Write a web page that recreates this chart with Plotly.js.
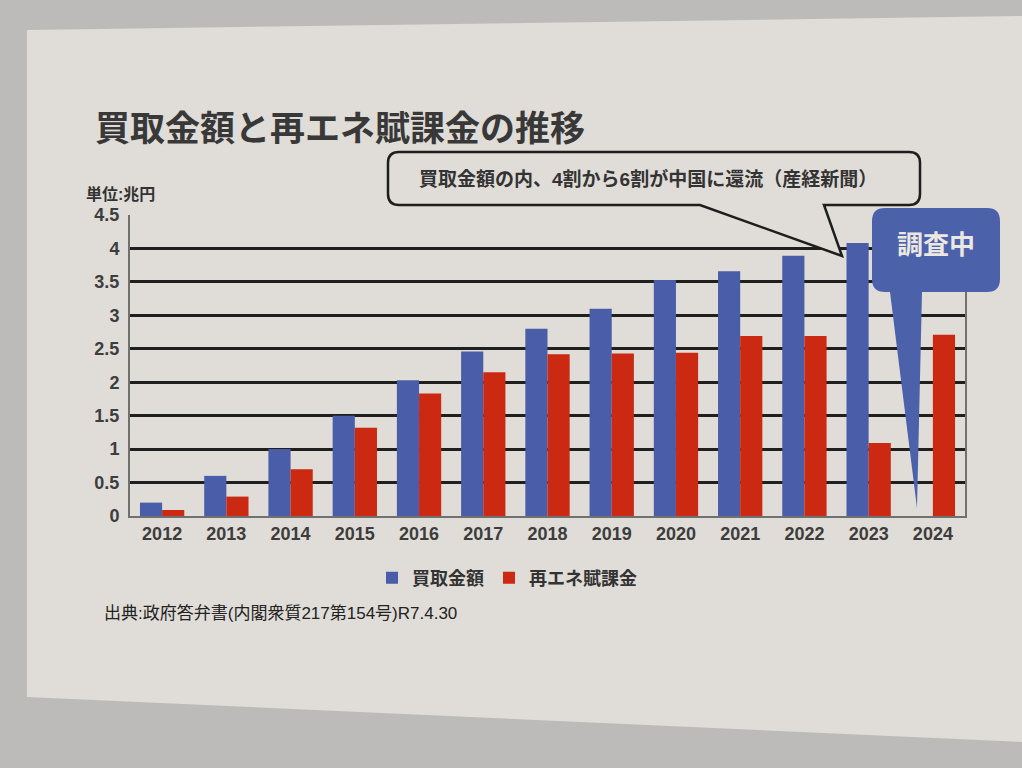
<!DOCTYPE html>
<html><head><meta charset="utf-8">
<script src="https://cdn.plot.ly/plotly-3.0.1.min.js"></script>
<style>html,body{margin:0;padding:0;background:#bdbbb9;}#chart{width:1022px;height:768px;}</style>
</head><body><div id="chart"></div>
<script>
// ---- data (兆円) ----
const years = ['2012','2013','2014','2015','2016','2017','2018','2019','2020','2021','2022','2023','2024'];
const purchaseAmount = [0.2, 0.6, 1.0, 1.5, 2.03, 2.46, 2.8, 3.1, 3.53, 3.66, 3.89, 4.08, null];
const renewableLevy  = [0.09, 0.29, 0.7, 1.32, 1.83, 2.15, 2.42, 2.43, 2.44, 2.69, 2.69, 1.09, 2.71];
const seriesNames = ['買取金額', '再エネ賦課金'];
const yTickValues = [0, 0.5, 1, 1.5, 2, 2.5, 3, 3.5, 4, 4.5];
const yTickLabels = ['0', '0.5', '1', '1.5', '2', '2.5', '3', '3.5', '4', '4.5'];
const titleText = '買取金額と再エネ賦課金の推移';
const unitText = '単位:兆円';
const calloutText = '買取金額の内、4割から6割が中国に還流（産経新聞）';
const pendingText = '調査中';
const sourceText = '出典:政府答弁書(内閣衆質217第154号)R7.4.30';

// ---- layout helpers ----
const W = 1022, H = 768, PL = 130, PR = 965, PT = 215, PB = 516;
const fx = x => (x - PL) / (PR - PL);
const fy = y => (PB - y) / (PB - PT);
const P = (x, y) => fx(x).toFixed(5) + ',' + fy(y).toFixed(5);
function bubble(x0, y0, x1, y1, r, tail) {
  let d = 'M' + P(x0 + r, y0) + ' L' + P(x1 - r, y0) + ' Q' + P(x1, y0) + ' ' + P(x1, y0 + r) +
          ' L' + P(x1, y1 - r) + ' Q' + P(x1, y1) + ' ' + P(x1 - r, y1);
  if (tail) d += ' L' + P(tail.right, y1) + ' L' + P(tail.tipX, tail.tipY) + ' L' + P(tail.left, y1);
  d += ' L' + P(x0 + r, y1) + ' Q' + P(x0, y1) + ' ' + P(x0, y1 - r) +
       ' L' + P(x0, y0 + r) + ' Q' + P(x0, y0) + ' ' + P(x0 + r, y0) + ' Z';
  return d;
}

const FONT = 'Liberation Sans, Arial, "Noto Sans CJK JP", sans-serif';
const SHEET = '#e0dcd7';
const BLUE = '#4a5da9';
const RED = '#cb2912';

const traces = [
  { type: 'bar', name: seriesNames[0], x: years, y: purchaseAmount, marker: { color: BLUE }, hoverinfo: 'x+y' },
  { type: 'bar', name: seriesNames[1], x: years, y: renewableLevy, marker: { color: RED }, hoverinfo: 'x+y' }
];

const layout = {
  width: W, height: H,
  margin: { l: PL, r: W - PR, t: PT, b: H - PB, pad: 0 },
  paper_bgcolor: '#bdbbb9',
  plot_bgcolor: 'rgba(0,0,0,0)',
  font: { family: FONT, color: '#3a3a3a' },
  barmode: 'group', bargap: 0.31, bargroupgap: 0,
  showlegend: true,
  legend: {
    orientation: 'h', x: fx(507), y: fy(578), xanchor: 'center', yanchor: 'middle',
    bgcolor: 'rgba(0,0,0,0)', font: { size: 18, weight: 'bold', color: '#333' },
    itemwidth: 30, tracegroupgap: 0
  },
  xaxis: {
    type: 'category', showgrid: false, showline: true, linecolor: '#707070', linewidth: 2,
    ticks: '', tickfont: { size: 18, weight: 'bold', color: '#3d3d3d' }, fixedrange: true
  },
  yaxis: {
    range: [0, 4.5], tickvals: yTickValues, ticktext: yTickLabels,
    showgrid: true, gridcolor: '#1f1f1f', gridwidth: 2.5, zeroline: false,
    showline: true, mirror: true, linecolor: '#707070', linewidth: 2,
    ticks: '', ticklabelstandoff: 5,
    tickfont: { size: 18, weight: 'bold', color: '#3d3d3d' }, fixedrange: true
  },
  shapes: [
    // paper sheet
    { type: 'path', xref: 'paper', yref: 'paper', layer: 'below',
      path: 'M' + P(27, 30) + ' L' + P(1022, 16) + ' L' + P(1022, 742) + ' L' + P(27, 697) + ' Z',
      fillcolor: SHEET, line: { width: 0 } },
    // speech bubble with the remark
    { type: 'path', xref: 'paper', yref: 'paper', layer: 'above',
      path: bubble(388, 152, 920, 205, 11, { right: 824, left: 700, tipX: 842, tipY: 256 }),
      fillcolor: SHEET, line: { color: '#1e1e1e', width: 2.5 } },
    // blue "調査中" bubble
    { type: 'path', xref: 'paper', yref: 'paper', layer: 'above',
      path: bubble(872, 208, 1000, 292, 13, { right: 922, left: 890, tipX: 917, tipY: 508 }),
      fillcolor: '#4b62ab', line: { width: 0 } }
  ],
  annotations: [
    { xref: 'paper', yref: 'paper', x: fx(93), y: fy(128), xanchor: 'left', yanchor: 'middle',
      text: titleText, showarrow: false, font: { size: 35, weight: 'bold', color: '#383838' } },
    { xref: 'paper', yref: 'paper', x: fx(84), y: fy(194), xanchor: 'left', yanchor: 'middle',
      text: unitText, showarrow: false, font: { size: 16, weight: 'bold', color: '#333' } },
    { xref: 'paper', yref: 'paper', x: fx(648), y: fy(179), xanchor: 'center', yanchor: 'middle',
      text: calloutText, showarrow: false, font: { size: 19, weight: 'bold', color: '#333' } },
    { xref: 'paper', yref: 'paper', x: fx(936), y: fy(245), xanchor: 'center', yanchor: 'middle',
      text: pendingText, showarrow: false, font: { size: 26, weight: 'bold', color: '#ece8e1' } },
    { xref: 'paper', yref: 'paper', x: fx(102), y: fy(613), xanchor: 'left', yanchor: 'middle',
      text: sourceText, showarrow: false, font: { size: 17, color: '#222' } }
  ]
};

Plotly.newPlot('chart', traces, layout, { displayModeBar: false, responsive: false });
</script>
</body></html>
